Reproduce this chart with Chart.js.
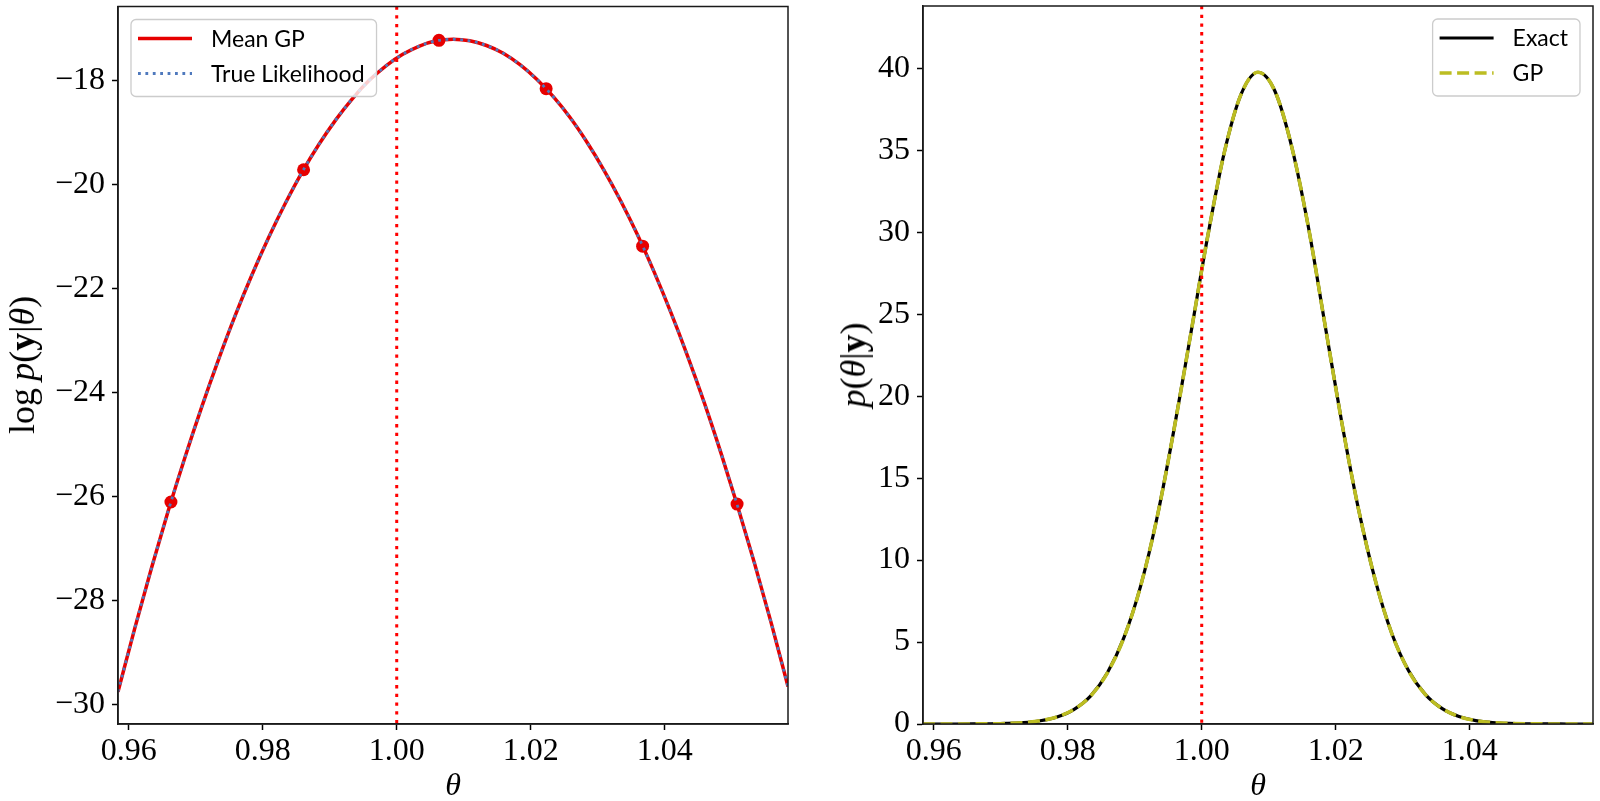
<!DOCTYPE html>
<html><head><meta charset="utf-8">
<script src="https://cdn.jsdelivr.net/npm/chart.js@4.4.0/dist/chart.umd.min.js"></script>
<style>
html,body{margin:0;padding:0;background:#fff;width:1600px;height:801px;overflow:hidden;}
.panel{position:absolute;top:0;width:800px;height:801px;}
.title{position:absolute;font-family:"Liberation Serif",serif;font-size:36px;color:#000;white-space:nowrap;line-height:1;transform:translate(-50%,-50%);}
.ytitle{transform:translate(-50%,-50%) rotate(-90deg);}
.title b{font-weight:bold;font-style:normal;}
</style></head>
<body>
<div class="panel" style="left:0"><canvas id="c1" width="800" height="801"></canvas></div>
<div class="panel" style="left:800px"><canvas id="c2" width="800" height="801"></canvas></div>
<div class="title" style="left:453px;top:784px;font-size:32px"><i>θ</i></div>
<div class="title" style="left:1258px;top:784px;font-size:32px"><i>θ</i></div>
<div class="title ytitle" style="left:22px;top:365px">log&#8201;<i>p</i>(<b>y</b>|<i>θ</i>)</div>
<div class="title ytitle" style="left:853px;top:365px"><i>p</i>(<i>θ</i>|<b>y</b>)</div>
<script>
// ---- data ----
const theta = [0.9584,0.9609,0.9634,0.9659,0.9684,0.9709,0.9734,0.9759,0.9784,0.9809,0.9834,0.9859,0.9884,0.9909,0.9934,0.9959,0.9984,1.0009,1.0034,1.0059,1.0084,1.0109,1.0134,1.0159,1.0184,1.0209,1.0234,1.0259,1.0284,1.0309,1.0334,1.0359,1.0384,1.0409,1.0434,1.0459,1.0484,1.0509,1.0534,1.0559,1.0584];
const meanGP = [-29.76,-28.54,-27.38,-26.28,-25.25,-24.28,-23.37,-22.52,-21.74,-21.02,-20.36,-19.76,-19.23,-18.76,-18.35,-18.00,-17.72,-17.50,-17.34,-17.24,-17.21,-17.24,-17.33,-17.48,-17.70,-17.98,-18.32,-18.72,-19.19,-19.72,-20.31,-20.96,-21.68,-22.46,-23.30,-24.20,-25.17,-26.20,-27.29,-28.44,-29.66];
const trueLik = [-29.76,-28.54,-27.38,-26.28,-25.25,-24.28,-23.37,-22.52,-21.74,-21.02,-20.36,-19.76,-19.23,-18.76,-18.35,-18.00,-17.72,-17.50,-17.34,-17.24,-17.21,-17.24,-17.33,-17.48,-17.70,-17.98,-18.32,-18.72,-19.19,-19.72,-20.31,-20.96,-21.68,-22.46,-23.30,-24.20,-25.17,-26.20,-27.29,-28.44,-29.66];
const obsTheta = [0.9663,0.9861,1.0063,1.0223,1.0367,1.0508];
const obsLogLik = [-26.11,-19.72,-17.23,-18.16,-21.19,-26.15];
const exactPost = [0.0001,0.0005,0.0015,0.0046,0.0128,0.034,0.084,0.197,0.429,0.881,1.70,3.11,5.28,8.44,12.72,18.05,23.88,29.76,34.92,38.44,39.76,38.63,35.27,30.36,24.36,18.41,13.11,8.78,5.49,3.23,1.79,0.935,0.455,0.209,0.090,0.037,0.014,0.005,0.0017,0.0005,0.0002];
const gpPost = [0.0001,0.0005,0.0015,0.0046,0.0128,0.034,0.084,0.197,0.429,0.881,1.70,3.11,5.28,8.44,12.72,18.05,23.88,29.76,34.92,38.44,39.76,38.63,35.27,30.36,24.36,18.41,13.11,8.78,5.49,3.23,1.79,0.935,0.455,0.209,0.090,0.037,0.014,0.005,0.0017,0.0005,0.0002];
const trueTheta = 1.0;
const xTicks = [0.96,0.98,1.00,1.02,1.04];
const yTicksLeft = [-30,-28,-26,-24,-22,-20,-18];
const yTicksRight = [0,5,10,15,20,25,30,35,40];
const xRange = [0.9584,1.0584];
const yRangeLeft = [-30.38,-16.58];
const yRangeRight = [0,43.8];

// ---- helpers ----
const xy = (xs, ys) => xs.map((x, i) => ({x: x, y: ys[i]}));
const RED = '#e60000';
const TICKFONT = {family: 'Liberation Serif', size: 32};

const deco = {
  id: 'deco',
  afterDatasetsDraw(chart) {
    const {ctx, chartArea: a, scales: {x}} = chart;
    const px = x.getPixelForValue(trueTheta);
    ctx.save();
    ctx.beginPath();
    ctx.setLineDash([3.3, 5.4]);
    ctx.lineWidth = 3;
    ctx.strokeStyle = '#ff0000';
    ctx.moveTo(px, a.top); ctx.lineTo(px, a.bottom);
    ctx.stroke();
    ctx.restore();
  },
  afterDraw(chart, args, opts) {
    const {ctx, chartArea: a} = chart;
    ctx.save();
    ctx.lineWidth = 1.5;
    ctx.strokeStyle = '#1a1a1a';
    ctx.setLineDash([]);
    ctx.strokeRect(a.left, a.top, a.right - a.left, a.bottom - a.top);
    // legend inside axes
    const items = opts.order.map(i => chart.data.datasets[i]);
    ctx.font = '23px Lato';
    const tw = Math.max(...items.map(d => ctx.measureText(d.label).width));
    const w = 7 + 54 + 19 + tw + 12, h = 77;
    const bx = opts.side === 'left' ? a.left + 13 : a.right - 13 - w;
    const by = a.top + 13;
    ctx.beginPath();
    ctx.roundRect(bx, by, w, h, 5);
    ctx.fillStyle = 'rgba(255,255,255,0.8)';
    ctx.fill();
    ctx.strokeStyle = '#cccccc';
    ctx.lineWidth = 1.3;
    ctx.stroke();
    items.forEach((d, k) => {
      const cy = by + 19 + k * 35;
      ctx.beginPath();
      ctx.setLineDash(d.borderDash || []);
      ctx.lineWidth = d.borderWidth;
      ctx.strokeStyle = d.borderColor;
      ctx.moveTo(bx + 7, cy); ctx.lineTo(bx + 61, cy);
      ctx.stroke();
      ctx.setLineDash([]);
      ctx.fillStyle = '#000';
      ctx.textBaseline = 'middle';
      ctx.textAlign = 'left';
      ctx.fillText(d.label, bx + 80, cy + 1);
    });
    ctx.restore();
  }
};

function axisOpts(ticksArr, range, fmt, isX, axisSize) {
  return {
    type: 'linear',
    min: range[0], max: range[1],
    afterBuildTicks: s => { s.ticks = ticksArr.map(v => ({value: v})); },
    afterFit: s => {
      if (isX) { s.height = axisSize; s.paddingLeft = 0; s.paddingRight = 0; }
      else { s.width = axisSize; s.paddingTop = 0; s.paddingBottom = 0; }
    },
    grid: {display: true, drawOnChartArea: false, drawTicks: true, tickLength: 6, tickWidth: 1.5, tickColor: '#000'},
    border: {display: true, color: '#1a1a1a', width: 1.5},
    ticks: {font: TICKFONT, color: '#000', padding: isX ? 2 : 7, autoSkip: false, maxRotation: 0, minRotation: 0, callback: fmt}
  };
}
const fmtX = v => v.toFixed(2);
const fmtY = v => (v < 0 ? '\u2212' + Math.abs(v) : String(v));

const base = {
  responsive: false, animation: false, events: [],
  plugins: {legend: {display: false}, tooltip: {enabled: false}}
};

new Chart(document.getElementById('c1'), {
  type: 'scatter',
  data: {datasets: [
    {label: 'True Likelihood', data: xy(theta, trueLik), showLine: true, borderColor: '#4f79bd', borderWidth: 2.8, borderDash: [2.8, 4.6], pointRadius: 0, cubicInterpolationMode: 'monotone', order: 0},
    {label: 'Mean GP', data: xy(theta, meanGP), showLine: true, borderColor: RED, borderWidth: 3.5, pointRadius: 0, cubicInterpolationMode: 'monotone', order: 1},
    {label: 'Observed', data: xy(obsTheta, obsLogLik), showLine: false, pointRadius: 6.5, pointBackgroundColor: RED, pointBorderColor: RED, pointBorderWidth: 0, order: 2}
  ]},
  options: Object.assign({}, base, {
    layout: {padding: {left: 0, right: 12, top: 6, bottom: 0}},
    scales: {
      x: axisOpts(xTicks, xRange, fmtX, true, 77),
      y: axisOpts(yTicksLeft, yRangeLeft, fmtY, false, 118)
    },
    plugins: Object.assign({}, base.plugins, {deco: {side: 'left', order: [1, 0]}})
  }),
  plugins: [deco]
});

new Chart(document.getElementById('c2'), {
  type: 'scatter',
  data: {datasets: [
    {label: 'GP', data: xy(theta, gpPost), showLine: true, borderColor: '#bcbd22', borderWidth: 3.6, borderDash: [12, 5.5], pointRadius: 0, cubicInterpolationMode: 'monotone', order: 0},
    {label: 'Exact', data: xy(theta, exactPost), showLine: true, borderColor: '#000000', borderWidth: 3.2, pointRadius: 0, cubicInterpolationMode: 'monotone', order: 1}
  ]},
  options: Object.assign({}, base, {
    layout: {padding: {left: 0, right: 7, top: 6, bottom: 0}},
    scales: {
      x: axisOpts(xTicks, xRange, fmtX, true, 77),
      y: axisOpts(yTicksRight, yRangeRight, fmtY, false, 123)
    },
    plugins: Object.assign({}, base.plugins, {deco: {side: 'right', order: [1, 0]}})
  }),
  plugins: [deco]
});
</script>
</body></html>
